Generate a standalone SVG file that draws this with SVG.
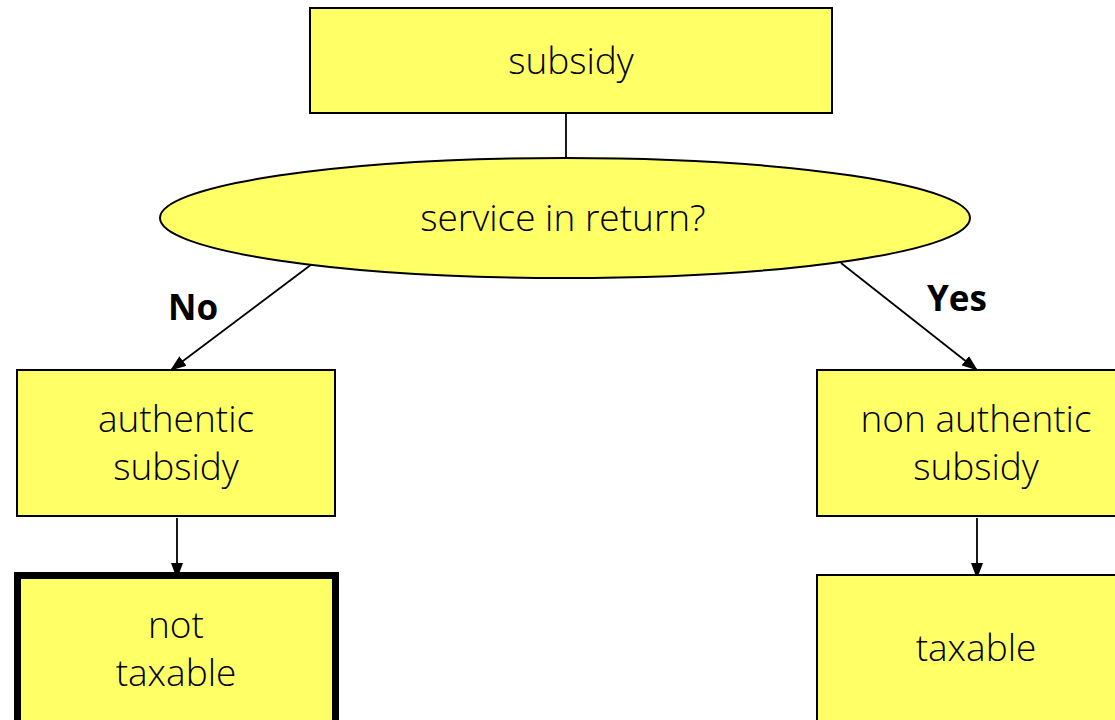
<svg xmlns="http://www.w3.org/2000/svg" width="1115" height="720" viewBox="0 0 1115 720">
<defs>
<marker id="ah" markerWidth="16" markerHeight="12" refX="15" refY="6" orient="auto" markerUnits="userSpaceOnUse">
<path d="M0,0 L16,6 L0,12 Z" fill="#000"/>
</marker>
<style>
.box{fill:#FFFF66;stroke:#000;stroke-width:2}
.t{font-family:"Open Sans","Noto Sans",sans-serif;font-size:37px;font-weight:350;fill:#000;text-anchor:middle}
.lbl{font-family:"Open Sans","Noto Sans",sans-serif;font-size:35px;font-weight:bold;fill:#000;text-anchor:middle}
.c{stroke:#000;stroke-width:1.8;fill:none}
</style>
</defs>
<rect width="1115" height="720" fill="#fff"/>
<g id="connectors">
<line class="c" x1="566" y1="113" x2="566" y2="158"/>
<line class="c" x1="312" y1="264" x2="171" y2="370" marker-end="url(#ah)"/>
<line class="c" x1="841" y1="263" x2="977" y2="370" marker-end="url(#ah)"/>
<line class="c" x1="177" y1="518" x2="177" y2="578" marker-end="url(#ah)"/>
<line class="c" x1="977" y1="518" x2="977" y2="578" marker-end="url(#ah)"/>
<text class="lbl" x="193" y="320">No</text>
<text class="lbl" x="957" y="311">Yes</text>
</g>
<g id="n-subsidy">
<rect class="box" x="310" y="8" width="522" height="105"/>
<text class="t" x="571" y="74">subsidy</text>
</g>
<g id="n-service">
<ellipse class="box" cx="565" cy="218" rx="405" ry="60"/>
<text class="t" x="563" y="231">service in return?</text>
</g>
<g id="n-authentic">
<rect class="box" x="17" y="370" width="318" height="146"/>
<text class="t" x="176" y="432">authentic</text>
<text class="t" x="176" y="480">subsidy</text>
</g>
<g id="n-nonauthentic">
<rect class="box" x="817" y="370" width="310" height="146"/>
<text class="t" x="976" y="432">non authentic</text>
<text class="t" x="976" y="480">subsidy</text>
</g>
<g id="n-nottaxable">
<rect class="box" x="17.5" y="575.5" width="318" height="160" style="stroke-width:7"/>
<text class="t" x="176" y="638">not</text>
<text class="t" x="176" y="686">taxable</text>
</g>
<g id="n-taxable">
<rect class="box" x="817" y="575" width="310" height="160"/>
<text class="t" x="976" y="661">taxable</text>
</g>
</svg>
